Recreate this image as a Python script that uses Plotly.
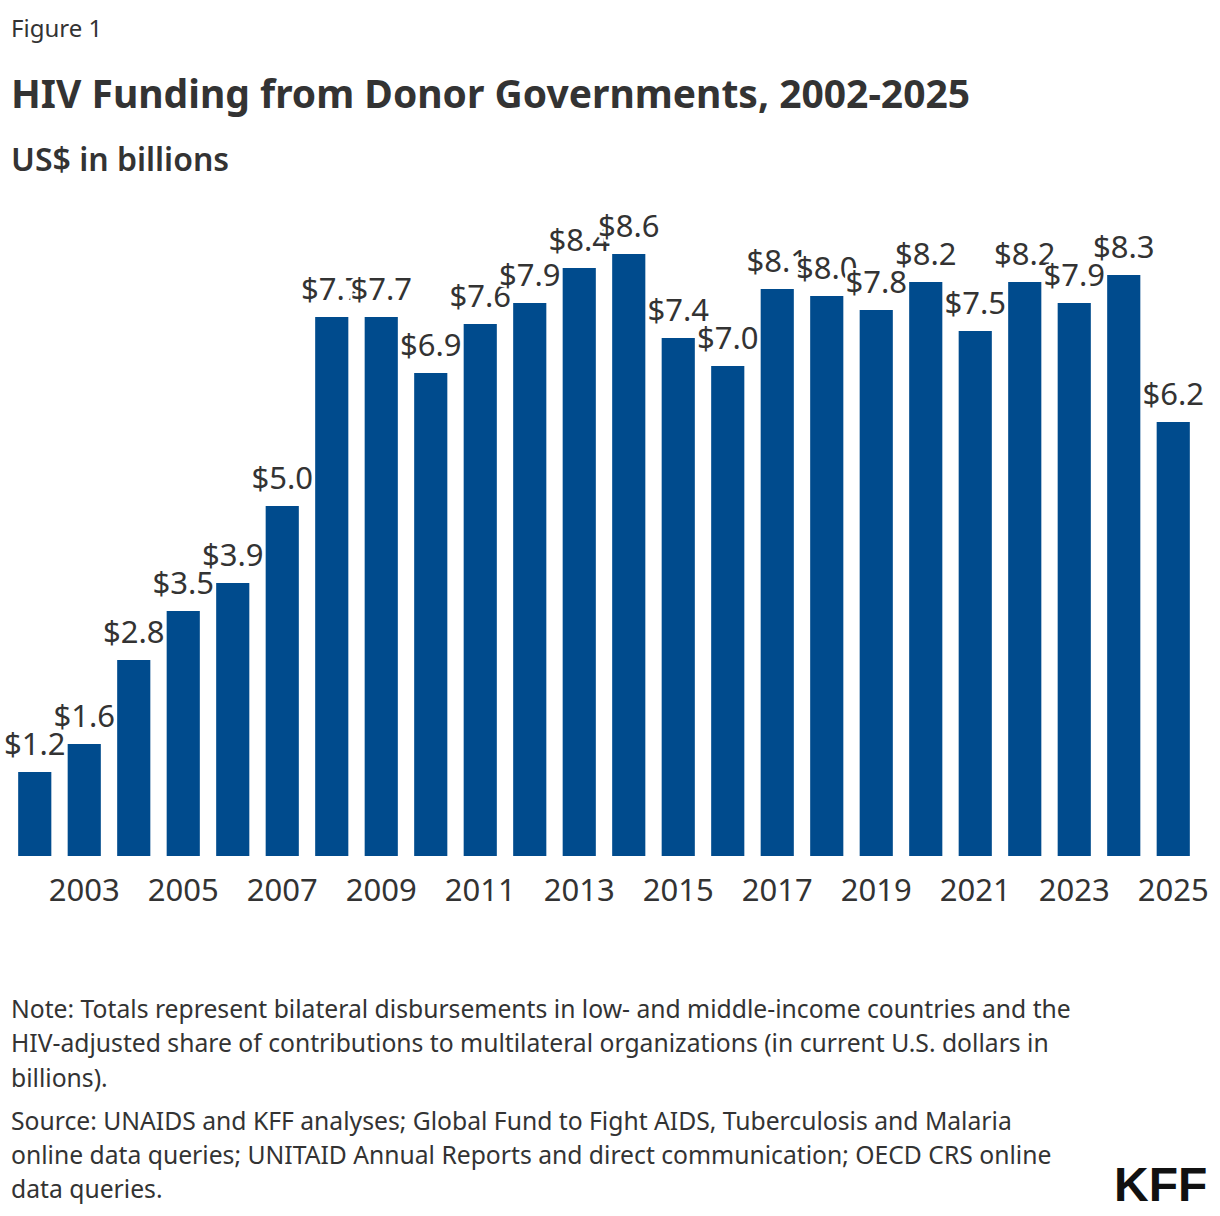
import plotly.graph_objects as go

years = list(range(2002, 2026))
values = [1.2, 1.6, 2.8, 3.5, 3.9, 5.0, 7.7, 7.7, 6.9, 7.6, 7.9, 8.4,
          8.6, 7.4, 7.0, 8.1, 8.0, 7.8, 8.2, 7.5, 8.2, 7.9, 8.3, 6.2]
labels = ["$%.1f" % v for v in values]
tick_years = list(range(2003, 2026, 2))

FONT = "Noto Sans"
TXT = "#333333"
BAR = "#004B8D"

W, H = 1220, 1216
L, R, T, B = 10, 22, 191, 360
ph = H - T - B

def py(ypx):
    return (H - B - ypx) / ph

halo = ",".join(f"{dx}px {dy}px 0 #fff" for dx in (-2, -1, 0, 1, 2) for dy in (-2, -1, 0, 1, 2) if dx or dy)

fig = go.Figure()
fig.add_trace(go.Scatter(
    x=years, y=values, mode="markers+text", text=labels,
    textposition="top center",
    marker=dict(size=14, opacity=0),
    textfont=dict(family=FONT, size=31, color=TXT, shadow=halo),
    cliponaxis=False, hoverinfo="skip", showlegend=False, zorder=0,
))
fig.add_trace(go.Bar(
    x=years, y=values, marker=dict(color=BAR, line=dict(width=0)),
    showlegend=False, hoverinfo="skip", zorder=1,
))

fig.update_layout(
    width=W, height=H,
    margin=dict(l=L, r=R, t=T, b=B, pad=0),
    paper_bgcolor="white", plot_bgcolor="white",
    bargap=0.33,
    font=dict(family=FONT, color=TXT),
    xaxis=dict(range=[2001.5, 2025.5], tickmode="array", tickvals=tick_years,
               ticktext=[str(y) for y in tick_years], ticks="", showgrid=False,
               showline=True, linecolor="#444444", linewidth=2,
               tickfont=dict(family=FONT, size=31, color=TXT), ticklabelstandoff=6,
               zeroline=False, fixedrange=True),
    yaxis=dict(range=[0, 9.5], visible=False, showgrid=False, zeroline=False),
)

anns = [
    dict(text="Figure 1", y=py(28), size=24, weight="normal"),
    dict(text="HIV Funding from Donor Governments, 2002-2025", y=py(92), size=39, weight="bold"),
    dict(text="US$ in billions", y=py(158), size=32, weight=600),
]
note_lines = [
    "Note: Totals represent bilateral disbursements in low- and middle-income countries and the",
    "HIV-adjusted share of contributions to multilateral organizations (in current U.S. dollars in",
    "billions).",
]
src_lines = [
    "Source: UNAIDS and KFF analyses; Global Fund to Fight AIDS, Tuberculosis and Malaria",
    "online data queries; UNITAID Annual Reports and direct communication; OECD CRS online",
    "data queries.",
]
for i, ln in enumerate(note_lines):
    anns.append(dict(text=ln, y=py(1008 + 34.5 * i), size=24.7, weight="normal"))
for i, ln in enumerate(src_lines):
    anns.append(dict(text=ln, y=py(1120 + 34 * i), size=24.7, weight="normal"))

for a in anns:
    fig.add_annotation(text=a["text"], xref="paper", yref="paper",
                       x=(9 - L) / (W - L - R), y=a["y"], xanchor="left", yanchor="middle",
                       showarrow=False, align="left",
                       font=dict(family=FONT, size=a["size"], color=TXT, weight=a["weight"]))

fig.add_annotation(text="KFF", xref="paper", yref="paper", x=(1209 - L) / (W - L - R), y=py(1184),
                   xanchor="right", yanchor="middle", showarrow=False,
                   font=dict(family="Liberation Sans", size=48, color="#111111", weight="bold"))

fig.write_html("out.html")
